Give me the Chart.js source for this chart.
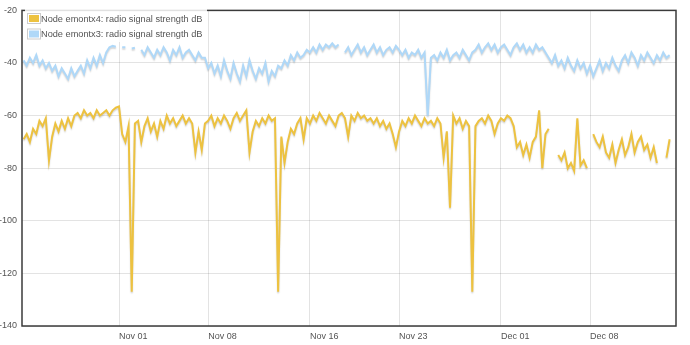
<!DOCTYPE html>
<html>
<head>
<meta charset="utf-8">
<script src="https://cdn.jsdelivr.net/npm/chart.js@4.4.0/dist/chart.umd.min.js"></script>
<style>
  html, body { margin: 0; padding: 0; background: #fff; }
  #wrap { width: 690px; height: 345px; position: relative; }
</style>
</head>
<body>
<div id="wrap"><canvas id="rssiChart"></canvas></div>
<script>
// time in days relative to Nov 01 00:00, one reading every 6 hours
const startDay = -7.5;
const stepDays = 0.25;

const seriesLabels = [
    'Node emontx4: radio signal strength dB',
    'Node emontx3: radio signal strength dB'
];

// emontx4 (orange)
const emontx4 = [
    -69, -67, -70, -65, -67, -62, -64, -61, -77, -68,
    -63, -66, -62, -65, -61, -64,
    -60, -59, -61, -58, -60, -59, -61, -58, -60, -59, -58, -60, -58, -57,
    -56.5, -67, -70, -64, -127, -63,
    -62, -70, -64, -61, -66, -63, -68, -62, -65,
    -60, -63, -61, -64, -62, -60, -63, -61, -63,
    -74, -66, -73, -63,
    -62, -60, -64, -61, -63, -60, -62, -65, -61, -59, -62, -60, -58,
    -74, -66,
    -62, -64, -61, -63, -60, -62, -61,
    -127,
    -68, -78, -70, -65, -67, -63,
    -61, -69,
    -61, -63, -60, -62, -59, -61, -63, -60, -62, -64, -60, -59, -61,
    -68,
    -60, -62, -59, -61, -60, -62, -61, -63, -61, -64, -62, -65, -63,
    -67, -72, -66,
    -62, -64, -61, -63, -60, -62, -64, -61, -63, -62, -64, -61,
    -63, -76, -66, -95, -60,
    -63, -61, -65, -62, -64,
    -127,
    -64, -62, -61, -63, -60, -62, -67, -63, -61, -62, -60, -61,
    -64, -72, -70, -75, -71, -76, -70, -68, -58, -80, -67, -65,
    null, null,
    -75,
    -77, -74, -80, -78, -81,
    -61, -79, -77, -80,
    null,
    -67,
    -70, -72, -68, -74, -76, -71, -78, -73, -69, -75, -72, -67, -74, -70,
    -68, -73, -71, -76, -72, -78,
    null, null,
    -76, -69
];

// emontx3 (blue)
const emontx3 = [
    -39, -41, -38, -40, -37, -41, -39, -42, -40,
    -43, -41, -45, -42, -44, -46, -42, -45, -43,
    -41, -44, -39, -42, -38, -41, -37, -40, -36, -34,
    -33.5, -33.8, null, -34, -34, null, -34.5, -34.2, null,
    -35, -37, -34, -36, -38, -35, -37, -34, -36, -39, -35, -37, -34, -38, -36, -35, -37, -39, -36, -38,
    -38, -42, -40, -44,
    -41, -45, -39, -43, -46, -40, -44, -47, -41, -45, -39, -43, -46, -42, -44, -40, -47, -43, -45, -41,
    -42, -39, -41, -37, -39, -36, -38,
    -37, -35, -36, -34, -36, -33, -35, -33, -34, -32.5, -34, -33,
    null,
    -36, -34, -37, -35, -33, -36, -34, -37, -35, -33, -36, -34, -37, -35, -34, -36, -33.5, -35,
    -37, -35, -38, -36, -37, -35, -38, -36,
    -60,
    -38,
    -37, -39, -36, -38, -35, -39, -37, -36, -38, -35, -37, -39, -36,
    -35, -33, -36, -34, -32.5, -35, -33, -36, -34, -33, -35, -37, -34, -32.5, -35, -33, -36, -34, -36, -33, -35, -34, -36,
    -38, -40, -37, -41,
    -39, -42, -38, -41, -43, -39, -42, -40, -44, -41, -45, -42, -39, -43, -40, -42, -38, -41, -43,
    -39, -37, -40, -36, -38, -41, -37, -39, -36, -38, -40, -37, -39, -36, -38, -37
];

const tickDays = [0, 7, 15, 22, 30, 37];
const tickLabels = ['Nov 01', 'Nov 08', 'Nov 16', 'Nov 23', 'Dec 01', 'Dec 08'];
const yMin = -140;
const yMax = -20;
const yStep = 20;

function toPoints(values) {
    return values.map(function(v, i) {
        return { x: startDay + i * stepDays, y: v };
    });
}

const frameAndLegend = {
    id: 'frameAndLegend',
    beforeDatasetDraw(chart) {
        const ctx = chart.ctx;
        ctx.save();
        ctx.shadowColor = 'rgba(0,0,0,0.18)';
        ctx.shadowOffsetY = 1.5;
        ctx.shadowBlur = 1.5;
    },
    afterDatasetDraw(chart) {
        chart.ctx.restore();
    },
    afterDraw(chart) {
        const ctx = chart.ctx;
        const a = chart.chartArea;
        ctx.save();
        ctx.strokeStyle = '#3b3b3b';
        ctx.lineWidth = 1.5;
        ctx.strokeRect(a.left, a.top, a.right - a.left, a.bottom - a.top);

        // legend box in the top left corner
        ctx.fillStyle = 'rgba(255,255,255,0.85)';
        ctx.fillRect(25, 8, 182, 34);
        ctx.font = '9.2px "Liberation Sans", Arial, sans-serif';
        ctx.textBaseline = 'middle';
        chart.data.datasets.forEach(function(ds, r) {
            const yc = 18.5 + r * 15.5;
            ctx.strokeStyle = '#cccccc';
            ctx.lineWidth = 1;
            ctx.strokeRect(27.5, yc - 5, 13, 10);
            ctx.fillStyle = ds.borderColor;
            ctx.fillRect(29, yc - 3.5, 10, 7);
            ctx.fillStyle = '#545454';
            ctx.fillText(ds.label, 41, yc + 0.5);
        });
        ctx.restore();
    }
};

Chart.defaults.font.family = '"Liberation Sans", Arial, sans-serif';
Chart.defaults.font.size = 9;
Chart.defaults.color = '#545454';

new Chart(document.getElementById('rssiChart'), {
    type: 'line',
    data: {
        datasets: [
            {
                label: seriesLabels[0],
                data: toPoints(emontx4),
                borderColor: 'rgb(237,194,64)',
                borderWidth: 2,
                pointRadius: 0,
                tension: 0,
                spanGaps: false,
                order: 2
            },
            {
                label: seriesLabels[1],
                data: toPoints(emontx3),
                borderColor: 'rgb(175,216,248)',
                borderWidth: 2,
                pointRadius: 0,
                tension: 0,
                spanGaps: false,
                order: 1
            }
        ]
    },
    options: {
        responsive: true,
        maintainAspectRatio: false,
        animation: false,
        layout: { padding: { top: 5, right: 14, bottom: 0, left: 0 } },
        plugins: { legend: { display: false }, tooltip: { enabled: false } },
        scales: {
            x: {
                type: 'linear',
                min: -7.62,
                max: 43.75,
                afterBuildTicks: function(scale) {
                    scale.ticks = tickDays.map(function(v) { return { value: v }; });
                },
                afterFit: function(scale) { scale.height = 19; },
                ticks: {
                    align: 'start',
                    padding: 5,
                    maxRotation: 0,
                    autoSkip: false,
                    callback: function(v) { return tickLabels[tickDays.indexOf(v)]; }
                },
                grid: { color: 'rgba(0,0,0,0.11)', drawTicks: false },
                border: { display: false }
            },
            y: {
                min: yMin,
                max: yMax,
                afterFit: function(scale) { scale.width = 22; },
                ticks: { stepSize: yStep, padding: 5 },
                grid: { color: 'rgba(0,0,0,0.11)', drawTicks: false },
                border: { display: false }
            }
        }
    },
    plugins: [frameAndLegend]
});
</script>
</body>
</html>
